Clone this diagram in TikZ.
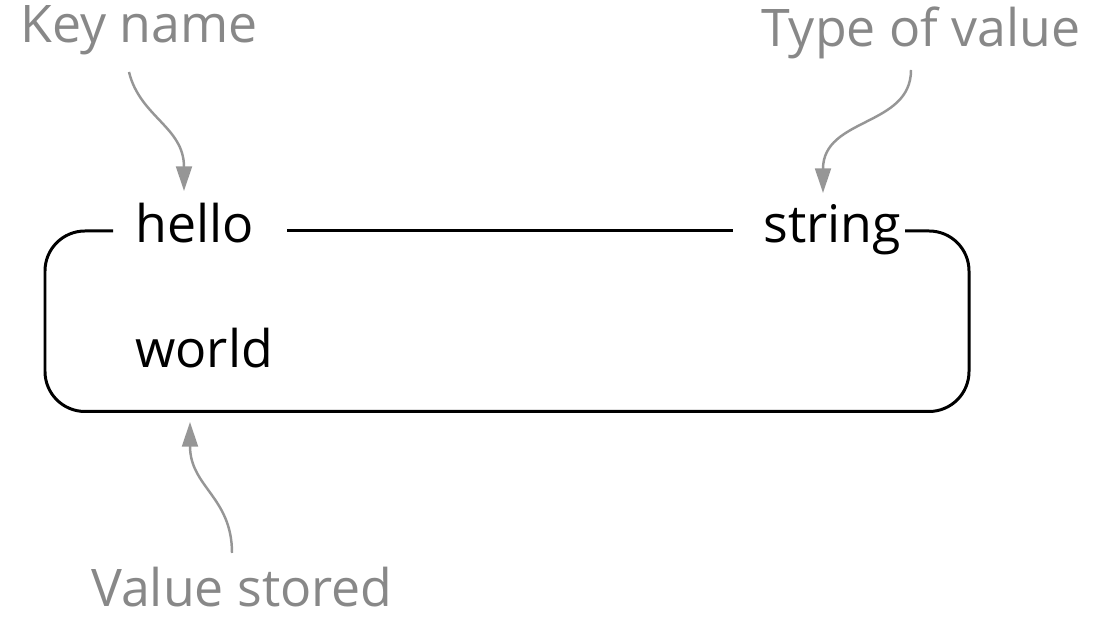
\documentclass[tikz,border=0pt]{standalone}
\usepackage{fontspec}
\setmainfont{Open Sans}
\usetikzlibrary{arrows.meta}
\definecolor{notegray}{RGB}{136,136,136}
\definecolor{arrowgray}{RGB}{150,150,150}
\tikzstyle{entry} = [anchor=base west, inner sep=0pt, font=\fontsize{29.5}{35}\selectfont, text=black]
\tikzstyle{note} = [entry, text=notegray]
\tikzstyle{arrow} = [draw=arrowgray, line width=1.4pt, -{Triangle[length=14pt,width=9pt]}]
\tikzstyle{box} = [draw=black, line width=1.7pt, rounded corners=0.8cm]
\begin{document}
\begin{tikzpicture}[x=0.02cm, y=0.02cm]
\useasboundingbox (0,0) rectangle (1098,617);
\node[note] (keyname) at (20,574) {Key name};
\node[note] (typeval) at (761,570) {Type of value};
\node[note] (stored) at (91,10) {Value stored};

\node[entry] (hello) at (135,374) {hello};
\node[entry] (string) at (763,374) {string};
\node[entry] (world) at (135,249) {world};

\draw[box] (113,386) -- (45,386) -- (45,205.5) -- (969,205.5) -- (969,386) -- (905,386);
\draw[box] (287,386) -- (733,386);

\coordinate (keytail) at (129,545);
\coordinate (keytip) at (184,426);
\coordinate (typetail) at (911,547);
\coordinate (typetip) at (823,424);
\coordinate (storedtail) at (232,64);
\coordinate (storedtip) at (190,195);

\draw[arrow] (keytail) .. controls (140,500) and (184,490) .. (keytip);
\draw[arrow] (typetail) .. controls (911,490) and (823,500) .. (typetip);
\draw[arrow] (storedtail) .. controls (232,120) and (190,130) .. (storedtip);
\end{tikzpicture}
\end{document}
